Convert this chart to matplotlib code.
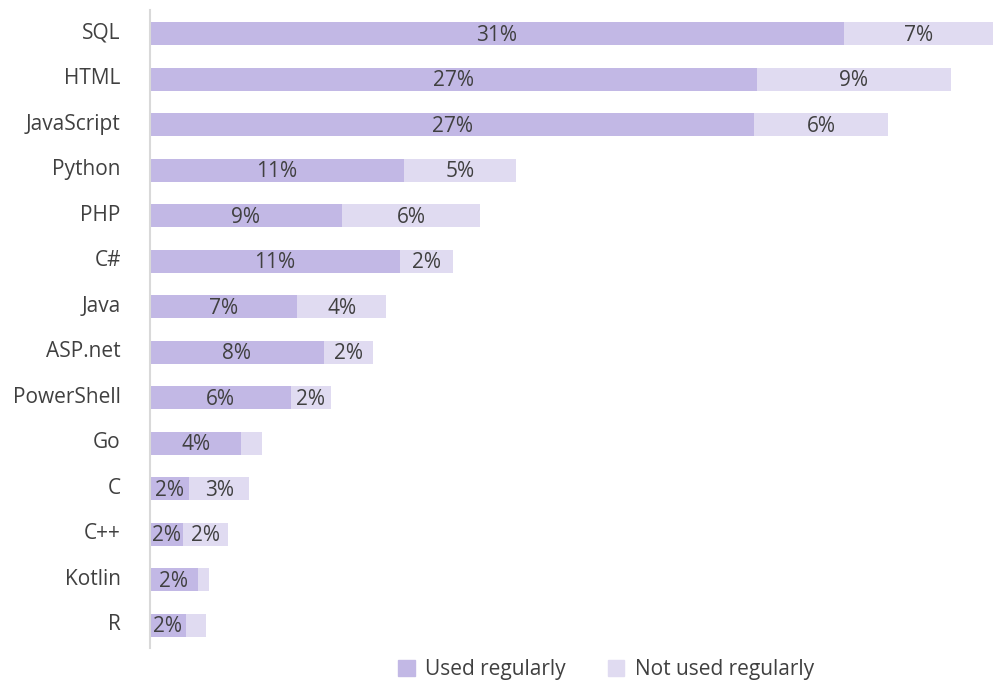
import matplotlib.pyplot as plt
import matplotlib.transforms as mtransforms
import numpy as np
from matplotlib.patches import Patch

plt.rcParams["font.family"] = ["Open Sans", "DejaVu Sans"]

languages = ["SQL", "HTML", "JavaScript", "Python", "PHP", "C#", "Java",
             "ASP.net", "PowerShell", "Go", "C", "C++", "Kotlin", "R"]
used_regularly = [31.1, 27.2, 27.1, 11.4, 8.6, 11.2, 6.6, 7.8, 6.3, 4.1, 1.75, 1.5, 2.15, 1.6]
not_used_regularly = [6.7, 8.7, 6.0, 5.0, 6.2, 2.4, 4.0, 2.2, 1.8, 0.9, 2.7, 2.0, 0.5, 0.9]
series_names = ["Used regularly", "Not used regularly"]

USED_COLOR = "#c2b8e5"
NOT_USED_COLOR = "#e0dbf1"
TEXT_COLOR = "#404040"

fig = plt.figure(figsize=(9.93, 6.81), dpi=100)
ax = fig.add_axes([150 / 993, 1 - 648 / 681, 1 - 150 / 993, (648 - 10) / 681])

y = np.arange(len(languages))
used = np.asarray(used_regularly)
not_used = np.asarray(not_used_regularly)

ax.barh(y, used, height=0.5, color=USED_COLOR)
ax.barh(y, not_used, left=used, height=0.5, color=NOT_USED_COLOR)

# percent labels, skipped on the slivers
for vals, lefts in ((used, np.zeros_like(used)), (not_used, used)):
    for yi, v, l in zip(y, vals, lefts):
        if v < 1.0:
            continue
        ax.text(l + v / 2, yi + 0.03, "{:d}%".format(int(round(v))),
                ha="center", va="center", fontsize=15, color=TEXT_COLOR)

ax.set_xlim(0, (used + not_used).max())
ax.set_ylim(len(languages) - 0.5, -0.52)
ax.set_yticks(y)
ax.set_yticklabels(languages, fontsize=15, color=TEXT_COLOR)
ax.tick_params(axis="y", length=0, pad=21)
ax.set_xticks([])
for side in ("top", "right", "bottom"):
    ax.spines[side].set_visible(False)
ax.spines["left"].set_color("#d9d9d9")
ax.spines["left"].set_linewidth(1.5)

# category names sit a few pixels above the bar centre in the original
shift = mtransforms.ScaledTranslation(0, 3 / 100, fig.dpi_scale_trans)
for lab in ax.get_yticklabels():
    lab.set_transform(lab.get_transform() + shift)

handles = [Patch(color=USED_COLOR), Patch(color=NOT_USED_COLOR)]
fig.legend(handles, series_names, loc="center", bbox_to_anchor=(606 / 993, 1 - 670 / 681),
           ncol=2, frameon=False, fontsize=15, handlelength=0.8, handleheight=0.8,
           handletextpad=0.5, columnspacing=2.0, labelcolor=TEXT_COLOR)

fig.savefig("out.png", dpi=100)
